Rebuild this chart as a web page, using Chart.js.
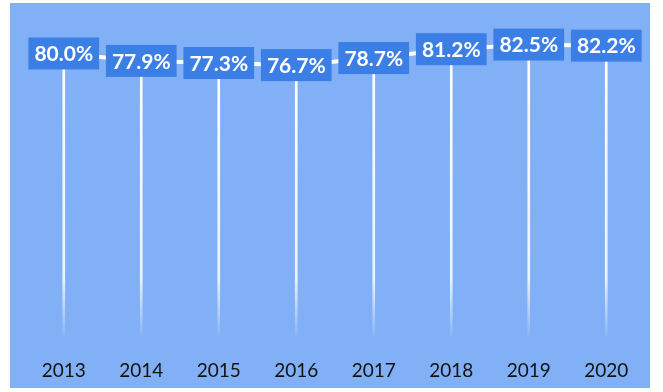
<!DOCTYPE html>
<html>
<head>
<meta charset="utf-8">
<script src="https://cdn.jsdelivr.net/npm/chart.js@4"></script>
<style>
  html, body { margin: 0; padding: 0; background: #fff; }
  #wrap { width: 663px; height: 392px; }
</style>
</head>
<body>
<div id="wrap"><canvas id="rateChart" width="663" height="392"></canvas></div>
<script>
const years = ['2013', '2014', '2015', '2016', '2017', '2018', '2019', '2020'];
const rates = [80.0, 77.9, 77.3, 76.7, 78.7, 81.2, 82.5, 82.2];

const bgBlue = '#82b0f6';
const boxBlue = '#3b7fe6';

// light blue panel behind the plot
const panelBg = {
  id: 'panelBg',
  beforeDraw(chart) {
    const ctx = chart.ctx;
    ctx.save();
    ctx.fillStyle = bgBlue;
    ctx.fillRect(10, 3, 640, 385);
    ctx.restore();
  }
};

// value boxes on top of the line points
const valueBoxes = {
  id: 'valueBoxes',
  afterDatasetsDraw(chart) {
    const ctx = chart.ctx;
    const meta = chart.getDatasetMeta(1);
    ctx.save();
    ctx.font = 'bold 21px Lato, "Open Sans", sans-serif';
    ctx.textAlign = 'center';
    ctx.textBaseline = 'middle';
    meta.data.forEach((pt, i) => {
      const txt = rates[i].toFixed(1) + '%';
      const w = ctx.measureText(txt).width + 12;
      const h = 32;
      ctx.fillStyle = boxBlue;
      ctx.fillRect(pt.x - w / 2, pt.y - h / 2, w, h);
      ctx.fillStyle = '#fff';
      ctx.fillText(txt, pt.x, pt.y + 1);
    });
    ctx.restore();
  }
};

const ctx = document.getElementById('rateChart').getContext('2d');
const fade = ctx.createLinearGradient(0, 40, 0, 337);
fade.addColorStop(0, 'rgba(255,255,255,1)');
fade.addColorStop(0.8, 'rgba(255,255,255,0.85)');
fade.addColorStop(1, 'rgba(255,255,255,0.05)');

new Chart(ctx, {
  data: {
    labels: years,
    datasets: [
      {
        type: 'bar',
        data: rates,
        backgroundColor: fade,
        barThickness: 2,
        order: 2
      },
      {
        type: 'line',
        data: rates,
        borderColor: '#ffffff',
        borderWidth: 4,
        pointRadius: 0,
        tension: 0,
        order: 1
      }
    ]
  },
  options: {
    responsive: false,
    animation: false,
    layout: { padding: { left: 25, right: 18, top: 18, bottom: 0 } },
    plugins: {
      legend: { display: false },
      tooltip: { enabled: false }
    },
    scales: {
      x: {
        afterFit(scale) { scale.height = 55; },
        grid: { display: false, drawTicks: false },
        border: { display: false },
        ticks: {
          color: '#111',
          padding: 22,
          font: { family: 'Lato, "Open Sans", sans-serif', size: 19 }
        }
      },
      y: {
        display: false,
        min: 0,
        max: 90
      }
    }
  },
  plugins: [panelBg, valueBoxes]
});
</script>
</body>
</html>
